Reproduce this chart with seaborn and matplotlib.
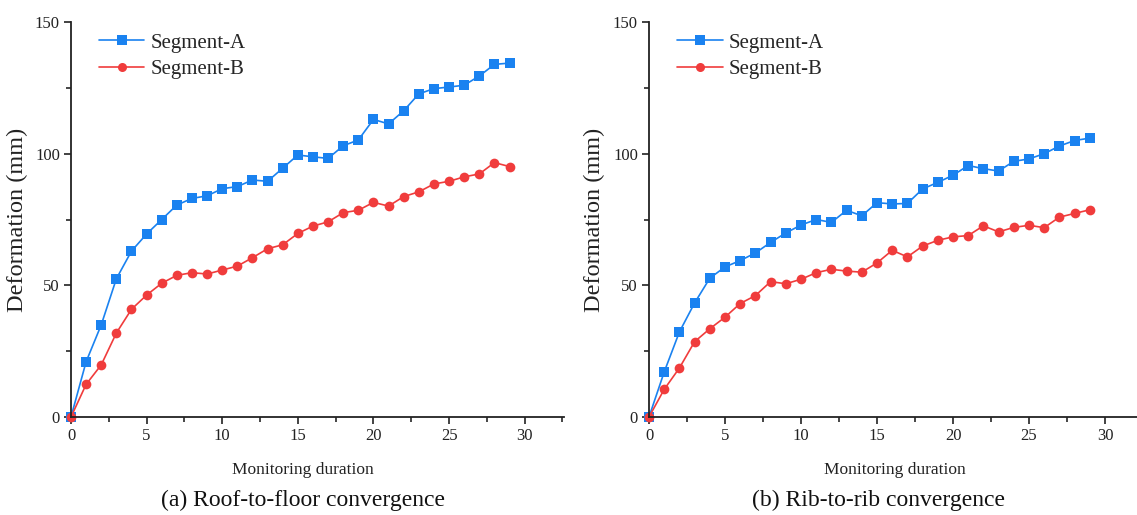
import numpy as np
import pandas as pd
import matplotlib
matplotlib.use("Agg")
import matplotlib.pyplot as plt
from matplotlib.ticker import MultipleLocator
import seaborn as sns

# ---- data ----
days = list(range(0, 30))
roof_seg_a = [0, 21, 35, 52.5, 63, 69.5, 75, 80.5, 83, 84, 86.7, 87.5, 90, 89.5, 94.5,
              99.5, 98.8, 98.2, 103, 105.2, 113, 111.3, 116.3, 122.7, 124.7, 125.3, 126, 129.5, 133.9, 134.4]
roof_seg_b = [0, 12.4, 19.8, 31.9, 40.9, 46.3, 50.8, 53.8, 54.8, 54.3, 55.8, 57.3, 60.5, 63.9, 65.4,
              69.7, 72.5, 74.1, 77.6, 78.5, 81.5, 80.1, 83.7, 85.5, 88.5, 89.5, 91.2, 92.3, 96.6, 95.1]
rib_seg_a = [0, 17.1, 32.3, 43.3, 52.7, 57, 59.4, 62.3, 66.3, 69.9, 72.9, 75, 73.9, 78.5, 76.4,
             81.4, 80.9, 81.1, 86.6, 89.1, 91.8, 95.5, 94.3, 93.4, 97.1, 98, 100, 102.9, 105, 105.9]
rib_seg_b = [0, 10.5, 18.6, 28.6, 33.5, 37.9, 43.1, 46.1, 51.4, 50.6, 52.3, 54.8, 56.1, 55.4, 55,
             58.5, 63.3, 60.8, 64.9, 67.1, 68.4, 68.9, 72.6, 70.3, 72, 72.8, 71.9, 75.9, 77.3, 78.7]
series_names = ["Segment-A", "Segment-B"]
captions = ["(a) Roof-to-floor convergence", "(b) Rib-to-rib convergence"]
x_label = "Monitoring duration"
y_label = "Deformation (mm)"

colors = {"Segment-A": "#1a82f0", "Segment-B": "#f03c3c"}
markers = {"Segment-A": "s", "Segment-B": "o"}

sns.set_theme(style="ticks")
plt.rcParams["font.family"] = ["Liberation Serif", "DejaVu Serif"]
plt.rcParams["axes.linewidth"] = 1.3

W, H = 1137, 515
fig = plt.figure(figsize=(W / 100, H / 100), dpi=100)

def px_axes(x0, x1, y_top, y_bot):
    return fig.add_axes([x0 / W, 1 - y_bot / H, (x1 - x0) / W, (y_bot - y_top) / H])

ax1 = px_axes(71, 564, 22, 417)
ax2 = px_axes(649, 649 + 32.6 * 15.2, 22, 417)

panels = [(ax1, roof_seg_a, roof_seg_b, 0.47, 303), (ax2, rib_seg_a, rib_seg_b, 0.497, 879)]

for (ax, a, b, xl_pos, cap_x), cap in zip(panels, captions):
    df = pd.DataFrame({
        "day": days + days,
        "value": a + b,
        "series": [series_names[0]] * len(days) + [series_names[1]] * len(days),
    })
    sns.lineplot(data=df, x="day", y="value", hue="series", style="series",
                 palette=colors, markers=markers, dashes=False, ax=ax,
                 linewidth=1.2, markersize=7, markeredgewidth=0, clip_on=False)
    ax.set_xlim(0, 32.6)
    ax.set_ylim(0, 150)
    ax.xaxis.set_major_locator(MultipleLocator(5))
    ax.xaxis.set_minor_locator(MultipleLocator(2.5))
    ax.yaxis.set_major_locator(MultipleLocator(50))
    ax.yaxis.set_minor_locator(MultipleLocator(25))
    ax.tick_params(which="major", direction="out", length=5, width=1.2, labelsize=12,
                   colors="#222222", pad=3)
    ax.tick_params(which="minor", direction="out", length=3.5, width=1.2)
    for s in ["top", "right"]:
        ax.spines[s].set_visible(False)
    for s in ["left", "bottom"]:
        ax.spines[s].set_color("#222222")
    ax.set_xlabel(x_label, fontsize=12.5, color="#222222")
    ax.set_ylabel(y_label, fontsize=17.5, color="#222222")
    ax.xaxis.set_label_coords(xl_pos, -0.115)
    ax.yaxis.set_label_coords(-0.088, 0.5)
    leg = ax.legend(loc="upper left", bbox_to_anchor=(0.056, 0.972), frameon=False,
                    fontsize=15, handlelength=2.2, handletextpad=0.3,
                    labelspacing=0.32, borderaxespad=0.0, borderpad=0.0)
    for h in leg.legend_handles:
        h.set_markersize(6.5)
    fig.text(cap_x / W, 1 - 500 / H, cap, ha="center", va="center", fontsize=17, color="#111111")

fig.savefig("out.png", dpi=100)
